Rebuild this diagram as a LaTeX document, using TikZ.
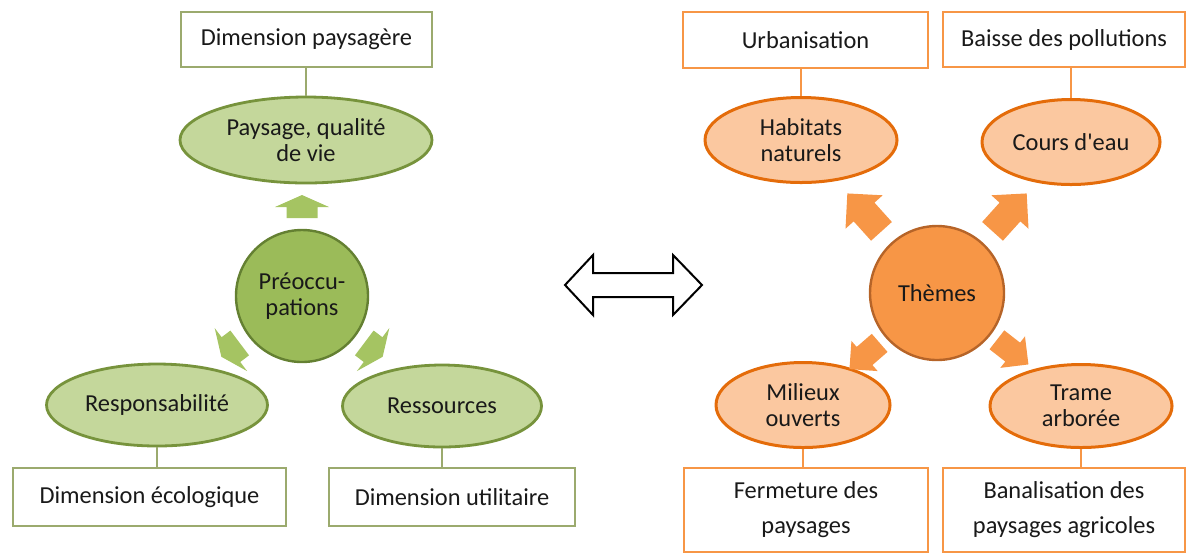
\documentclass[tikz,border=0pt]{standalone}
\usepackage{fontspec}
\setmainfont{Carlito}
\usetikzlibrary{shapes.geometric}

\definecolor{gboxline}{RGB}{155,170,110}
\definecolor{gellfill}{RGB}{196,215,155}
\definecolor{gelldraw}{RGB}{119,147,60}
\definecolor{gcircfill}{RGB}{155,187,89}
\definecolor{gcircdraw}{RGB}{100,128,50}
\definecolor{garrow}{RGB}{165,196,98}
\definecolor{oboxline}{RGB}{247,150,70}
\definecolor{oellfill}{RGB}{251,200,160}
\definecolor{oelldraw}{RGB}{228,108,10}
\definecolor{ocircfill}{RGB}{247,150,70}
\definecolor{ocircdraw}{RGB}{182,100,40}
\definecolor{oarrow}{RGB}{247,150,70}
\definecolor{txt}{RGB}{25,25,25}

% block arrow radiating from a node: node, angle, start, length, head length, head half width, shaft half width, colour
\newcommand{\blockarrow}[8]{%
  \fill[#8, shift={(#1.center)}, rotate=#2]
    (#3,-#7) -- ({#3+#4-#5},-#7) -- ({#3+#4-#5},-#6) -- ({#3+#4},0)
    -- ({#3+#4-#5},#6) -- ({#3+#4-#5},#7) -- (#3,#7) -- cycle;}

\begin{document}
\begin{tikzpicture}[
x=0.5pt, y=-0.5pt,
every node/.style={font=\fontsize{12.2}{13.2}\selectfont, text=txt, align=center, inner sep=0pt},
gbox/.style={draw=gboxline, line width=0.75pt, fill=white, minimum width=#1},
obox/.style={draw=oboxline, line width=0.9pt, fill=white, minimum width=#1},
gell/.style={ellipse, draw=gelldraw, fill=gellfill, line width=1.4pt},
oell/.style={ellipse, draw=oelldraw, fill=oellfill, line width=1.5pt},
gcirc/.style={circle, draw=gcircdraw, fill=gcircfill, line width=1.2pt, minimum size=66pt},
ocirc/.style={circle, draw=ocircdraw, fill=ocircfill, line width=1.2pt, minimum size=67pt},
gline/.style={draw=gboxline, line width=0.75pt},
oline/.style={draw=oboxline, line width=0.9pt}
]
\useasboundingbox (0,0) rectangle (1186,554);

% left: preoccupations
\node[gcirc] (preoc) at (302,296) {Préoccu-\\pations};
\node[gell, minimum width=126pt, minimum height=43pt] (paysage) at (306,140) {Paysage, qualité\\de vie};
\node[gell, minimum width=110.5pt, minimum height=41pt] (respons) at (157,405) {Responsabilité};
\node[gell, minimum width=99.5pt, minimum height=41pt] (ressour) at (442,406) {Ressources};
\node[gbox=125.5pt, minimum height=27.5pt] (dimpay) at (306.5,39.5) {Dimension paysagère};
\node[gbox=136.5pt, minimum height=29pt] (dimeco) at (149.5,497) {Dimension écologique};
\node[gbox=123pt, minimum height=29pt] (dimuti) at (452,497) {Dimension utilitaire};
\draw[gline] (dimpay.south -| paysage) -- (paysage.north);
\draw[gline] (respons.south) -- (respons.south |- dimeco.north);
\draw[gline] (ressour.south) -- (ressour.south |- dimuti.north);
\blockarrow{preoc}{90}{78}{23}{12}{27}{15.5}{garrow}
\blockarrow{preoc}{217}{78}{23}{12}{27}{15.5}{garrow}
\blockarrow{preoc}{-37}{78}{23}{12}{27}{15.5}{garrow}

% middle: double arrow
\draw[line width=1pt, fill=white, line join=miter]
  (565,285) -- (593,255) -- (593,273) -- (673,273) -- (673,255) -- (702,285)
  -- (673,315) -- (673,297) -- (593,297) -- (593,315) -- cycle;

% right: themes
\node[ocirc] (themes) at (937,293) {Thèmes};
\node[oell, minimum width=96pt, minimum height=42.5pt] (habitat) at (801,140) {Habitats\\naturels};
\node[oell, minimum width=89pt, minimum height=42.5pt] (cours) at (1071,142) {Cours d\textquotesingle eau};
\node[oell, minimum width=87pt, minimum height=42.5pt] (milieux) at (803,405) {Milieux\\ouverts};
\node[oell, minimum width=91pt, minimum height=41.5pt] (trame) at (1081,406) {Trame\\arborée};
\node[obox=122.5pt, minimum height=28pt] (urban) at (805.5,40) {Urbanisation};
\node[obox=121pt, minimum height=27.5pt] (baisse) at (1064,39.5) {Baisse des pollutions};
\node[obox=122pt, minimum height=42pt, font=\fontsize{12.2}{17.5}\selectfont] (ferme) at (806,510) {Fermeture des\\paysages};
\node[obox=121pt, minimum height=42pt, font=\fontsize{12.2}{17.5}\selectfont] (banal) at (1064,510) {Banalisation des\\paysages agricoles};
\draw[oline] (urban.south -| habitat) -- (habitat.north);
\draw[oline] (baisse.south -| cours) -- (cours.north);
\draw[oline] (milieux.south) -- (milieux.south |- ferme.north);
\draw[oline] (trame.south) -- (trame.south |- banal.north);
\blockarrow{themes}{132}{83}{51}{25}{25}{14}{oarrow}
\blockarrow{themes}{48}{83}{51}{25}{25}{14}{oarrow}
\blockarrow{themes}{221}{76}{40}{20}{20}{12}{oarrow}
\blockarrow{themes}{-38}{76}{40}{20}{20}{12}{oarrow}
\end{tikzpicture}
\end{document}
